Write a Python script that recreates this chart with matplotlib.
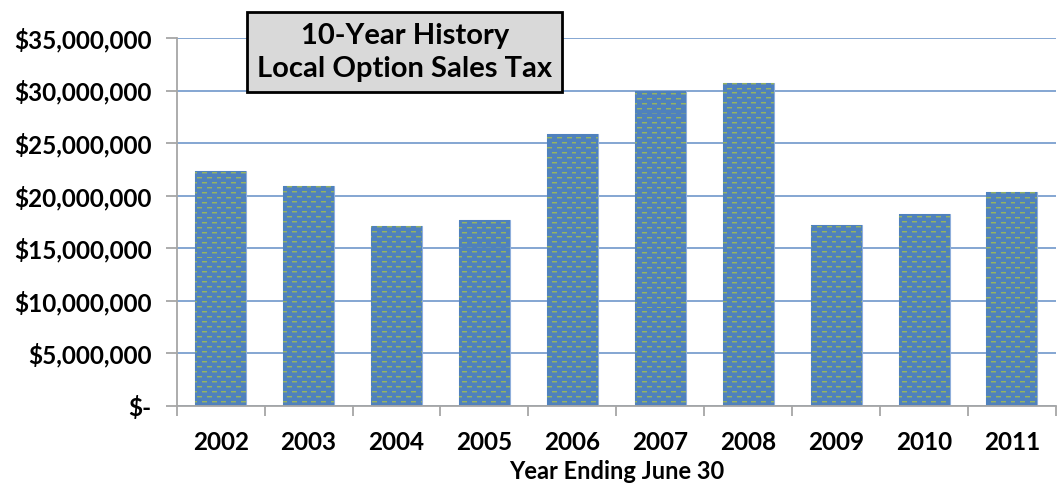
import numpy as np
import matplotlib.pyplot as plt
from matplotlib.ticker import FuncFormatter

years = ['2002', '2003', '2004', '2005', '2006', '2007', '2008', '2009', '2010', '2011']
revenue = [22400000, 20950000, 17150000, 17650000, 25900000,
           29950000, 30700000, 17250000, 18300000, 20350000]

plt.rcParams['font.family'] = ['Lato', 'DejaVu Sans']
plt.rcParams['font.weight'] = 'bold'

fig = plt.figure(figsize=(10.58, 4.88), dpi=100)
ax = fig.add_axes([0.167, 0.168, 0.831, 0.754])

x = np.arange(len(years))
bars = ax.bar(x, revenue, 0.58, color='#4f81bd', edgecolor='#8eaedb', linewidth=0.8, zorder=2)

# dashed texture laid over each bar, one texel per pixel
tex = np.zeros((10, 10, 4))
tex[..., :3] = np.array([79, 129, 189]) / 255
tex[..., 3] = 1.0
dash = np.array([150, 180, 95]) / 255
half = np.array([110, 150, 150]) / 255
tex[0, 0:5, :3] = dash
tex[1, 0:5, :3] = half
tex[5, 5:10, :3] = dash
tex[6, 5:10, :3] = half
tile = np.tile(tex, (37, 88, 1))
for b in bars:
    im = ax.imshow(tile, extent=[-0.5, len(years) - 0.5, 0, 35000000],
                   aspect='auto', interpolation='nearest', zorder=2.5)
    im.set_clip_path(b)

ax.set_xlim(-0.5, len(years) - 0.5)
ax.set_ylim(0, 35000000)
ax.set_yticks(np.arange(0, 35000001, 5000000))
ax.yaxis.set_major_formatter(FuncFormatter(lambda v, p: '$-' if v == 0 else f'${v:,.0f}'))
ax.grid(axis='y', color='#7b9fcf', linewidth=1.3, zorder=0)
ax.set_xticks(x)
ax.set_xticklabels(years)
ax.set_xticks(np.arange(-0.5, len(years)), minor=True)
ax.tick_params(axis='x', which='major', length=0, labelsize=17.5, pad=18)
ax.tick_params(axis='x', which='minor', length=7, color='#a6a6a6', width=1.3)
ax.tick_params(axis='y', length=8, color='#a6a6a6', width=1.3, labelsize=17.5, pad=10)

for s in ['top', 'right']:
    ax.spines[s].set_visible(False)
for s in ['left', 'bottom']:
    ax.spines[s].set_color('#a6a6a6')
    ax.spines[s].set_linewidth(1.3)

ax.set_xlabel('Year Ending June 30', fontsize=17, fontweight='bold', labelpad=4)

fig.text(0.3825, 0.893, '10-Year History\nLocal Option Sales Tax', ha='center', va='center',
         fontsize=21, fontweight='bold', linespacing=1.35,
         bbox=dict(boxstyle='square,pad=0.35', facecolor='#d9d9d9', edgecolor='black', linewidth=2))

fig.savefig('out.png', dpi=100)
